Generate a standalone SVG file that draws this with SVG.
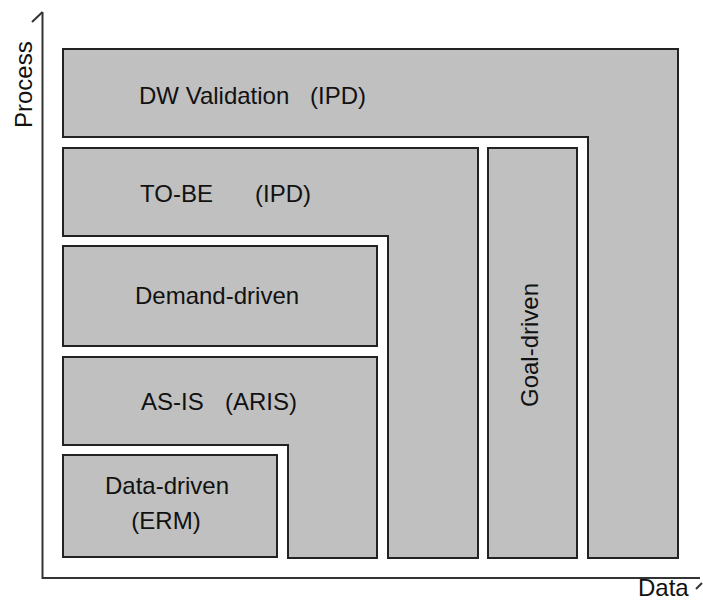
<svg xmlns="http://www.w3.org/2000/svg" width="703" height="601" viewBox="0 0 703 601">
<style>
.box{fill:#c0c0c0;stroke:#222;stroke-width:2;stroke-linejoin:miter}
.ax{fill:none;stroke:#333;stroke-width:2}
text{font-family:"Liberation Sans",Arial,sans-serif;font-size:24px;fill:#111}
</style>
<rect width="703" height="601" fill="#fff"/>
<g id="axes">
<path class="ax" d="M42.5,12 V578 H700"/>
<path class="ax" d="M42.5,12 L32,22"/>
<path class="ax" d="M696,589 L702,583"/>
<text transform="translate(32,128) rotate(-90)">Process</text>
<text x="638" y="596" font-size="21">Data</text>
</g>
<g id="dw-validation">
<polygon class="box" points="63,49 678,49 678,558 588,558 588,137 63,137"/>
<text x="139" y="104">DW Validation</text>
<text x="310" y="104">(IPD)</text>
</g>
<g id="goal-driven">
<rect class="box" x="488" y="148" width="89" height="410"/>
<text transform="translate(538,345) rotate(-90)" text-anchor="middle">Goal-driven</text>
</g>
<g id="to-be">
<polygon class="box" points="63,148 478,148 478,558 388,558 388,236 63,236"/>
<text x="140" y="202">TO-BE</text>
<text x="255" y="202">(IPD)</text>
</g>
<g id="demand-driven">
<rect class="box" x="63" y="246" width="314" height="100"/>
<text x="135" y="304">Demand-driven</text>
</g>
<g id="as-is">
<polygon class="box" points="63,357 377,357 377,558 288,558 288,445 63,445"/>
<text x="141" y="410">AS-IS</text>
<text x="225" y="410">(ARIS)</text>
</g>
<g id="data-driven">
<rect class="box" x="63" y="455" width="214" height="102"/>
<text x="167" y="494" text-anchor="middle">Data-driven</text>
<text x="166" y="529" text-anchor="middle">(ERM)</text>
</g>
<g id="connectors"></g>
</svg>
